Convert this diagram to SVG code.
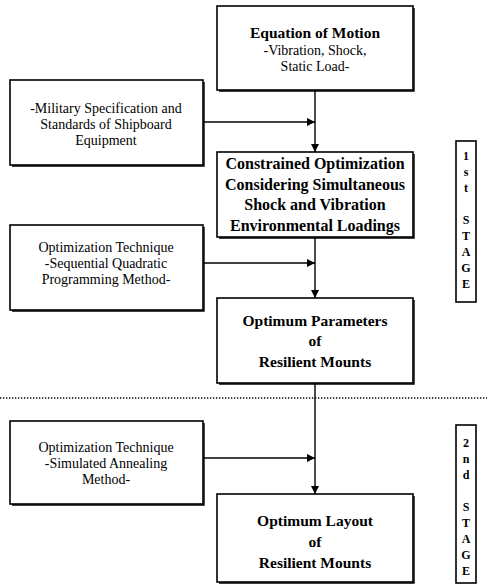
<svg xmlns="http://www.w3.org/2000/svg" width="487" height="585" viewBox="0 0 487 585">
<style>
.box{fill:#fff;stroke:#000;stroke-width:1.6}
.sh{fill:none;stroke:#000;stroke-width:1.4}
.b{font-family:"Liberation Serif","Times New Roman",serif;font-weight:bold;font-size:15.5px;text-anchor:middle;fill:#000}
.r{font-family:"Liberation Serif","Times New Roman",serif;font-size:14px;text-anchor:middle;fill:#000}
.s{font-family:"Liberation Serif","Times New Roman",serif;font-weight:bold;font-size:12px;text-anchor:middle;fill:#000}
.ln{stroke:#000;stroke-width:1.4;fill:none}
.dot{stroke:#000;stroke-width:1.3;stroke-dasharray:1.3 1.7;fill:none}
</style>
<defs>
<marker id="ah" viewBox="0 0 10 10" refX="10" refY="5" markerWidth="8" markerHeight="8" markerUnits="userSpaceOnUse" orient="auto">
<path d="M0,0 L10,5 L0,10 Z" fill="#000"/>
</marker>
</defs>
<g id="connectors">
<line class="ln" x1="315" y1="90" x2="315" y2="152" marker-end="url(#ah)"/>
<line class="ln" x1="203" y1="122" x2="315" y2="122" marker-end="url(#ah)"/>
<line class="ln" x1="315" y1="237" x2="315" y2="298" marker-end="url(#ah)"/>
<line class="ln" x1="203" y1="263" x2="315" y2="263" marker-end="url(#ah)"/>
<line class="ln" x1="315" y1="383" x2="315" y2="494" marker-end="url(#ah)"/>
<line class="ln" x1="203" y1="458" x2="315" y2="458" marker-end="url(#ah)"/>
</g>
<line id="divider" class="dot" x1="0" y1="398" x2="487" y2="398"/>
<g id="eq-motion">
<rect class="box" x="217" y="6" width="196" height="84"/>
<polyline class="sh" points="414,8 414,91 219,91"/>
<text class="b" x="315" y="38">Equation of Motion</text>
<text class="r" x="315" y="55">-Vibration, Shock,</text>
<text class="r" x="315" y="71">Static Load-</text>
</g>
<g id="military">
<rect class="box" x="10" y="80" width="193" height="85"/>
<polyline class="sh" points="204,82 204,166 12,166"/>
<text class="r" x="106" y="113">-Military Specification and</text>
<text class="r" x="106" y="129">Standards of Shipboard</text>
<text class="r" x="106" y="145">Equipment</text>
</g>
<g id="constrained">
<rect class="box" x="217" y="152" width="196" height="85"/>
<polyline class="sh" points="414,154 414,238 219,238"/>
<text class="b" x="315" y="169" style="font-size:16px">Constrained Optimization</text>
<text class="b" x="315" y="189.5" style="font-size:16px">Considering Simultaneous</text>
<text class="b" x="315" y="210" style="font-size:16px">Shock and Vibration</text>
<text class="b" x="315" y="230.5" style="font-size:16px">Environmental Loadings</text>
</g>
<g id="sqp">
<rect class="box" x="10" y="225" width="193" height="85"/>
<polyline class="sh" points="204,227 204,311 12,311"/>
<text class="r" x="106" y="252">Optimization Technique</text>
<text class="r" x="106" y="268">-Sequential Quadratic</text>
<text class="r" x="106" y="284">Programming Method-</text>
</g>
<g id="opt-params">
<rect class="box" x="217" y="298" width="196" height="85"/>
<polyline class="sh" points="414,300 414,384 219,384"/>
<text class="b" x="315" y="326">Optimum Parameters</text>
<text class="b" x="315" y="346">of</text>
<text class="b" x="315" y="367">Resilient Mounts</text>
</g>
<g id="sa">
<rect class="box" x="10" y="421" width="193" height="83"/>
<polyline class="sh" points="204,423 204,505 12,505"/>
<text class="r" x="106" y="452">Optimization Technique</text>
<text class="r" x="106" y="468">-Simulated Annealing</text>
<text class="r" x="106" y="484">Method-</text>
</g>
<g id="opt-layout">
<rect class="box" x="217" y="494" width="196" height="88"/>
<polyline class="sh" points="414,496 414,583 219,583"/>
<text class="b" x="315" y="526">Optimum Layout</text>
<text class="b" x="315" y="547">of</text>
<text class="b" x="315" y="568">Resilient Mounts</text>
</g>
<g id="stage1">
<rect class="box" x="456" y="141" width="20" height="161"/>
<text class="s" x="466" y="160">1</text>
<text class="s" x="466" y="176">s</text>
<text class="s" x="466" y="192">t</text>
<text class="s" x="466" y="224">S</text>
<text class="s" x="466" y="240">T</text>
<text class="s" x="466" y="256">A</text>
<text class="s" x="466" y="272">G</text>
<text class="s" x="466" y="288">E</text>
</g>
<g id="stage2">
<rect class="box" x="456" y="425" width="20" height="158"/>
<text class="s" x="466" y="447">2</text>
<text class="s" x="466" y="463">n</text>
<text class="s" x="466" y="479">d</text>
<text class="s" x="466" y="511">S</text>
<text class="s" x="466" y="527">T</text>
<text class="s" x="466" y="543">A</text>
<text class="s" x="466" y="559">G</text>
<text class="s" x="466" y="575">E</text>
</g>
</svg>
